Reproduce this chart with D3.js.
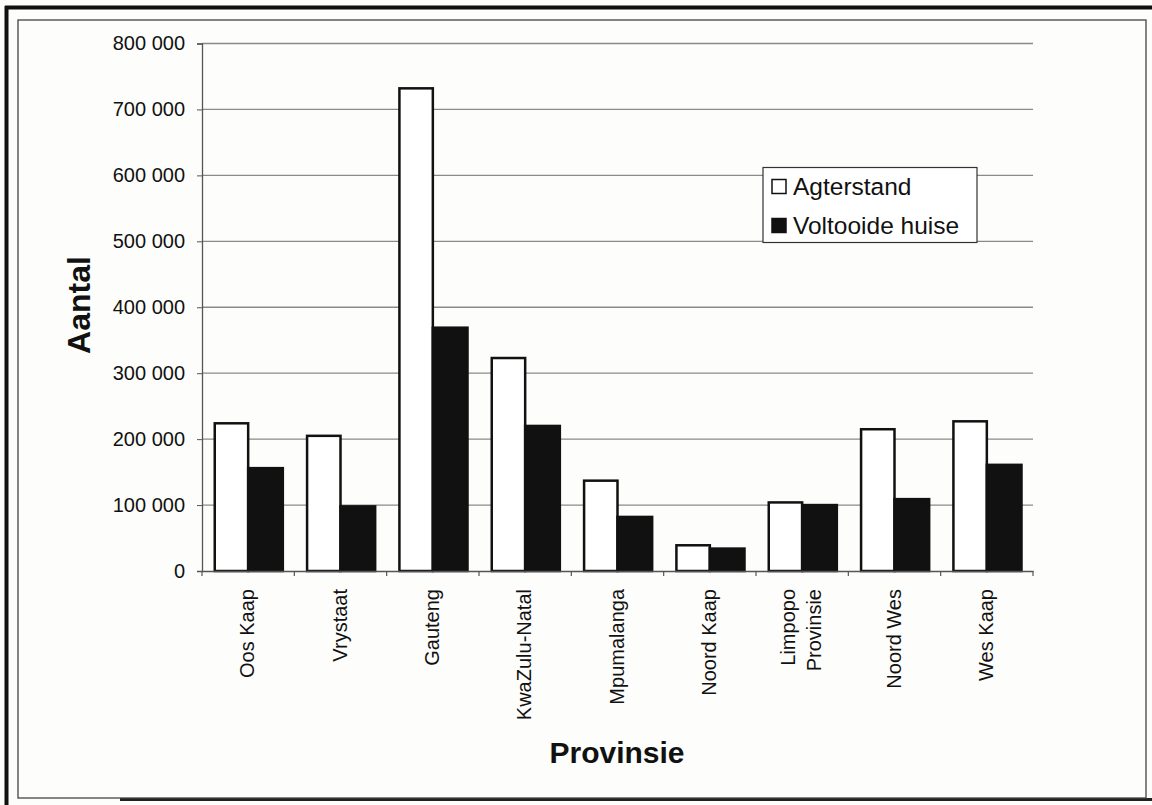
<!DOCTYPE html>
<html>
<head>
<meta charset="utf-8">
<script src="https://cdn.jsdelivr.net/npm/d3@7"></script>
<style>
  body { margin: 0; background: #fdfdfb; }
  svg { display: block; font-family: Arial, "Liberation Sans", sans-serif; }
</style>
</head>
<body>
<div id="chart"></div>
<script>
var provinces = ['Oos Kaap', 'Vrystaat', 'Gauteng', 'KwaZulu-Natal', 'Mpumalanga',
                 'Noord Kaap', 'Limpopo Provinsie', 'Noord Wes', 'Wes Kaap'];
var agterstand = [224000, 205000, 732000, 323000, 137000, 39000, 104000, 215000, 227000];
var voltooid   = [156000, 98000, 369000, 220000, 82000, 34000, 100000, 109000, 161000];
var seriesNames = ['Agterstand', 'Voltooide huise'];
var yTicks = [0, 100000, 200000, 300000, 400000, 500000, 600000, 700000, 800000];

var width = 1152, height = 805;
var plotLeft = 202, plotRight = 1033, plotTop = 43.5, plotBottom = 571;

var svg = d3.select("#chart").append("svg")
    .attr("width", width)
    .attr("height", height);

// frames (scanned page look)
svg.append("rect").attr("x", 0).attr("y", 0).attr("width", width).attr("height", height)
    .attr("fill", "#fdfdfb");
svg.append("line").attr("x1", 5).attr("x2", width).attr("y1", 7.5).attr("y2", 7.5)
    .attr("stroke", "#111").attr("stroke-width", 4);
svg.append("line").attr("x1", 6.5).attr("x2", 6.5).attr("y1", 6).attr("y2", height)
    .attr("stroke", "#111").attr("stroke-width", 4);
svg.append("line").attr("x1", 120).attr("x2", width).attr("y1", 799.5).attr("y2", 799.5)
    .attr("stroke", "#222").attr("stroke-width", 3);
svg.append("rect").attr("x", 18).attr("y", 20).attr("width", 1128).attr("height", 778)
    .attr("fill", "none").attr("stroke", "#444").attr("stroke-width", 1.3);

var x = d3.scaleBand().domain(provinces).range([plotLeft, plotRight]).paddingInner(0).paddingOuter(0);
var x1 = d3.scaleBand().domain(seriesNames).range([11.5, x.bandwidth() - 11.5]);
var y = d3.scaleLinear().domain([0, 800000]).range([plotBottom, plotTop]);

// gridlines
svg.append("g").selectAll("line").data(yTicks.slice(1)).enter().append("line")
    .attr("x1", plotLeft).attr("x2", plotRight)
    .attr("y1", function(d) { return y(d); })
    .attr("y2", function(d) { return y(d); })
    .attr("stroke", "#8a8a8a").attr("stroke-width", 1.3);

// y axis
var yAxis = d3.axisLeft(y).tickValues(yTicks).tickSize(5).tickPadding(12)
    .tickFormat(function(d) { return d3.format(",")(d).replace(/,/g, " "); });
var gy = svg.append("g").attr("transform", "translate(" + plotLeft + ",0)").call(yAxis);
gy.select(".domain").attr("stroke", "#555").attr("stroke-width", 1.3);
gy.selectAll(".tick line").attr("stroke", "#555");
gy.selectAll("text").attr("font-size", 20).attr("fill", "#111")
    .attr("font-family", "Arial, 'Liberation Sans', sans-serif");

// bars
var data = provinces.map(function(p, i) {
    return { p: p, vals: [agterstand[i], voltooid[i]] };
});
var groups = svg.append("g").selectAll("g").data(data).enter().append("g")
    .attr("transform", function(d) { return "translate(" + x(d.p) + ",0)"; });
groups.selectAll("rect").data(function(d) {
        return d.vals.map(function(v, j) { return { s: seriesNames[j], v: v, j: j }; });
    }).enter().append("rect")
    .attr("x", function(d) { return x1(d.s) + (d.j == 0 ? 1.25 : 0); })
    .attr("width", function(d) { return x1.bandwidth() - (d.j == 0 ? 1.25 : 0); })
    .attr("y", function(d) { return y(d.v); })
    .attr("height", function(d) { return plotBottom - y(d.v); })
    .attr("fill", function(d) { return d.j == 0 ? "#fff" : "#111"; })
    .attr("stroke", "#111")
    .attr("stroke-width", 2.5);

// x axis
var xAxis = d3.axisBottom(x).tickSize(0).tickFormat("");
var gx = svg.append("g").attr("transform", "translate(0," + plotBottom + ")").call(xAxis);
gx.select(".domain").attr("stroke", "#555").attr("stroke-width", 1.3);
var xt = provinces.map(function(p) { return x(p); }).concat([plotRight]);
svg.append("g").selectAll("line").data(xt).enter().append("line")
    .attr("x1", function(d) { return d; }).attr("x2", function(d) { return d; })
    .attr("y1", plotBottom).attr("y2", plotBottom + 5)
    .attr("stroke", "#555").attr("stroke-width", 1.2);

// x labels, rotated
var xl = svg.append("g").selectAll("text").data(provinces).enter().append("text")
    .attr("transform", function(d) {
        return "translate(" + (x(d) + x.bandwidth() / 2 - 1) + "," + 589 + ") rotate(-90)";
    })
    .attr("text-anchor", "end")
    .attr("font-size", 20)
    .attr("fill", "#111");
xl.each(function(d) {
    var words = d == 'Limpopo Provinsie' ? ['Limpopo', 'Provinsie'] : [d];
    var t = d3.select(this);
    words.forEach(function(w, k) {
        t.append("tspan").attr("x", 0)
            .attr("dy", words.length == 1 ? "0.35em" : (k == 0 ? "-0.3em" : "1.3em"))
            .text(w);
    });
});

// axis titles
svg.append("text")
    .attr("transform", "translate(90,305) rotate(-90)")
    .attr("text-anchor", "middle")
    .attr("font-size", 32).attr("font-weight", "bold").attr("fill", "#111")
    .text("Aantal");
svg.append("text")
    .attr("x", 617).attr("y", 763)
    .attr("text-anchor", "middle")
    .attr("font-size", 30).attr("font-weight", "bold").attr("fill", "#111")
    .text("Provinsie");

// legend
var lg = svg.append("g").attr("transform", "translate(763,167.5)");
lg.append("rect").attr("width", 214).attr("height", 75)
    .attr("fill", "#fff").attr("stroke", "#333").attr("stroke-width", 1.2);
seriesNames.forEach(function(s, i) {
    var yy = 19 + i * 39;
    lg.append("rect").attr("x", 9).attr("y", yy - 7).attr("width", 14).attr("height", 14)
        .attr("fill", i == 0 ? "#fff" : "#111").attr("stroke", "#111").attr("stroke-width", 1.5);
    lg.append("text").attr("x", 30).attr("y", yy).attr("dy", "0.36em")
        .attr("font-size", 24.5).attr("fill", "#111").text(s);
});
</script>
</body>
</html>
